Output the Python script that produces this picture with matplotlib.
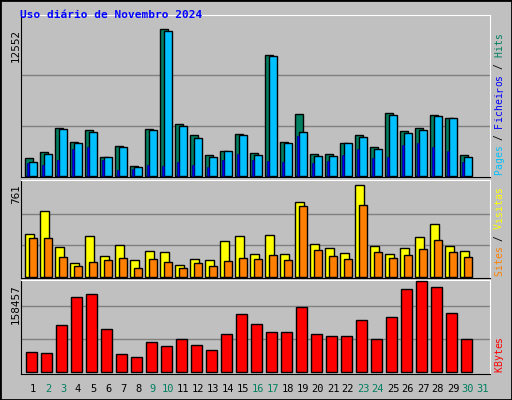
import numpy as np
import matplotlib
matplotlib.use("Agg")
import matplotlib.pyplot as plt

# values (day 31 has no data)
days = list(range(1, 32))
hits = [1510, 2050, 4110, 2910, 3940, 1600, 2540, 830, 4030, 12552,
        4450, 3510, 1800, 2140, 3590, 1940, 10320, 2910, 5330, 1860,
        1860, 2820, 3510, 2480, 5420, 3850, 4110, 5250, 4990, 1770]
files = [1170, 1860, 4030, 2820, 3770, 1600, 2450, 740, 3940, 12380,
         4280, 3250, 1630, 2140, 3510, 1770, 10240, 2820, 3770, 1680,
         1680, 2820, 3340, 2310, 5250, 3680, 3940, 5160, 4910, 1600]
pages = [1090, 910, 1340, 2280, 2450, 1340, 510, 570, 910, 830,
         1170, 910, 740, 1340, 1860, 1340, 1260, 1170, 3400, 1090,
         1260, 1770, 2280, 1510, 1600, 2620, 2790, 2450, 2110, 1170]
visits = [356, 546, 249, 116, 339, 174, 265, 141, 215, 207,
          99, 149, 141, 298, 339, 190, 347, 190, 623, 273,
          240, 198, 761, 257, 190, 240, 331, 438, 257, 215]
sites = [323, 323, 165, 91, 124, 141, 157, 74, 149, 124,
         74, 116, 91, 132, 157, 149, 182, 141, 590, 223,
         174, 149, 598, 207, 157, 182, 232, 306, 207, 165]
kbytes = [34800, 33100, 81800, 130400, 135600, 74800, 31400, 26100, 52200, 45300,
          57400, 47000, 38300, 66100, 100900, 83500, 69600, 69600, 113100, 66100,
          62600, 62600, 90400, 57400, 95700, 144300, 158457, 147900, 102600, 57400]
weekend = [2, 3, 9, 10, 16, 17, 23, 24, 30, 31]

W, H = 512, 400
BG = "#C0C0C0"
fig = plt.figure(figsize=(W / 100, H / 100), dpi=100, facecolor=BG)

def panel(top, bottom):
    ax = fig.add_axes([21 / W, 1 - bottom / H, (490 - 21) / W, (bottom - top) / H])
    ax.set_facecolor(BG)
    ax.set_xlim(21, 490)
    ax.set_xticks([])
    ax.set_yticks([])
    for s in ax.spines.values():
        s.set_color("black")
    ax.spines["top"].set_color("white")
    ax.spines["right"].set_color("white")
    return ax

n = len(hits)
centers = np.array([31 + 15 * i for i in range(n)])
ek = dict(edgecolor="black", linewidth=1, zorder=3)

# top: hits / files / pages
ax1 = panel(15, 177)
ax1.set_ylim(-12552 * 1 / 147, 12552 * 161 / 147)
for g in (1 / 3, 2 / 3):
    ax1.axhline(12552 * g * 1.03, color="#808080", lw=1, zorder=1)
ax1.bar(centers - 6, hits, width=7.7, align="edge", color="#008060", **ek)
ax1.bar(centers - 1.7, files, width=7.4, align="edge", color="#00C0FF", **ek)
ax1.bar(centers - 4, pages, width=2.3, align="edge", color="#0000FF", edgecolor="#000080", linewidth=0.5, zorder=4)

# middle: visits / sites
ax2 = panel(180, 278)
ax2.set_ylim(-761 / 93, 761 * 97 / 92)
for g in (1 / 3, 2 / 3):
    ax2.axhline(761 * g * 1.03, color="#808080", lw=1, zorder=1)
ax2.bar(centers - 6, visits, width=8.7, align="edge", color="#FFFF00", **ek)
ax2.bar(centers - 2, sites, width=8, align="edge", color="#FF8000", **ek)

# bottom: kbytes
ax3 = panel(280, 374)
ax3.set_ylim(-158457 * 2 / 91, 158457 * 92 / 91)
for g in (1 / 3, 2 / 3):
    ax3.axhline(158457 * g * 1.09, color="#808080", lw=1, zorder=1)
ax3.bar(centers - 5, kbytes, width=10.5, align="edge", color="#FF0000", **ek)

# day labels
mono = "DejaVu Sans Mono"
for i, d in enumerate(days):
    x = 31 + 15 * i + 2
    fig.text(x / W, 1 - 389 / H, str(d), ha="center", va="center", fontsize=7.5,
             family=mono, color="#008060" if d in weekend else "black")

fig.text(20 / W, 1 - 15 / H, "Uso diário de Novembro 2024", color="#0000FF",
         fontsize=8, family=mono, fontweight="bold", va="center")

for y, txt in ((29, "12552"), (184, "761"), (284, "158457")):
    fig.text(11 / W, 1 - y / H, txt, rotation=90, ha="left", va="top", fontsize=7.5, family="DejaVu Sans")

def side(y0, parts):
    # stack coloured pieces bottom-up, one char at a time keeps spacing exact
    y = y0
    for txt, col in parts:
        for ch in txt:
            if ch != " ":
                fig.text(499 / W, 1 - y / H, ch, rotation=90, ha="center", va="bottom",
                         fontsize=7, family=mono, color=col)
            y -= 5.9
side(175, [("Pages", "#00C0FF"), (" / ", "#000000"), ("Ficheiros", "#0000FF"), (" / ", "#000000"), ("Hits", "#008060")])
side(276, [("Sites", "#FF8000"), (" / ", "#000000"), ("Visitas", "#FFFF00")])
side(372, [("KBytes", "#FF0000")])

# frame
fig.patches.append(plt.Rectangle((0, 0), 1, 1, transform=fig.transFigure, fill=False,
                                 edgecolor="black", lw=2))
fig.savefig("out.png", dpi=100, facecolor=BG)
